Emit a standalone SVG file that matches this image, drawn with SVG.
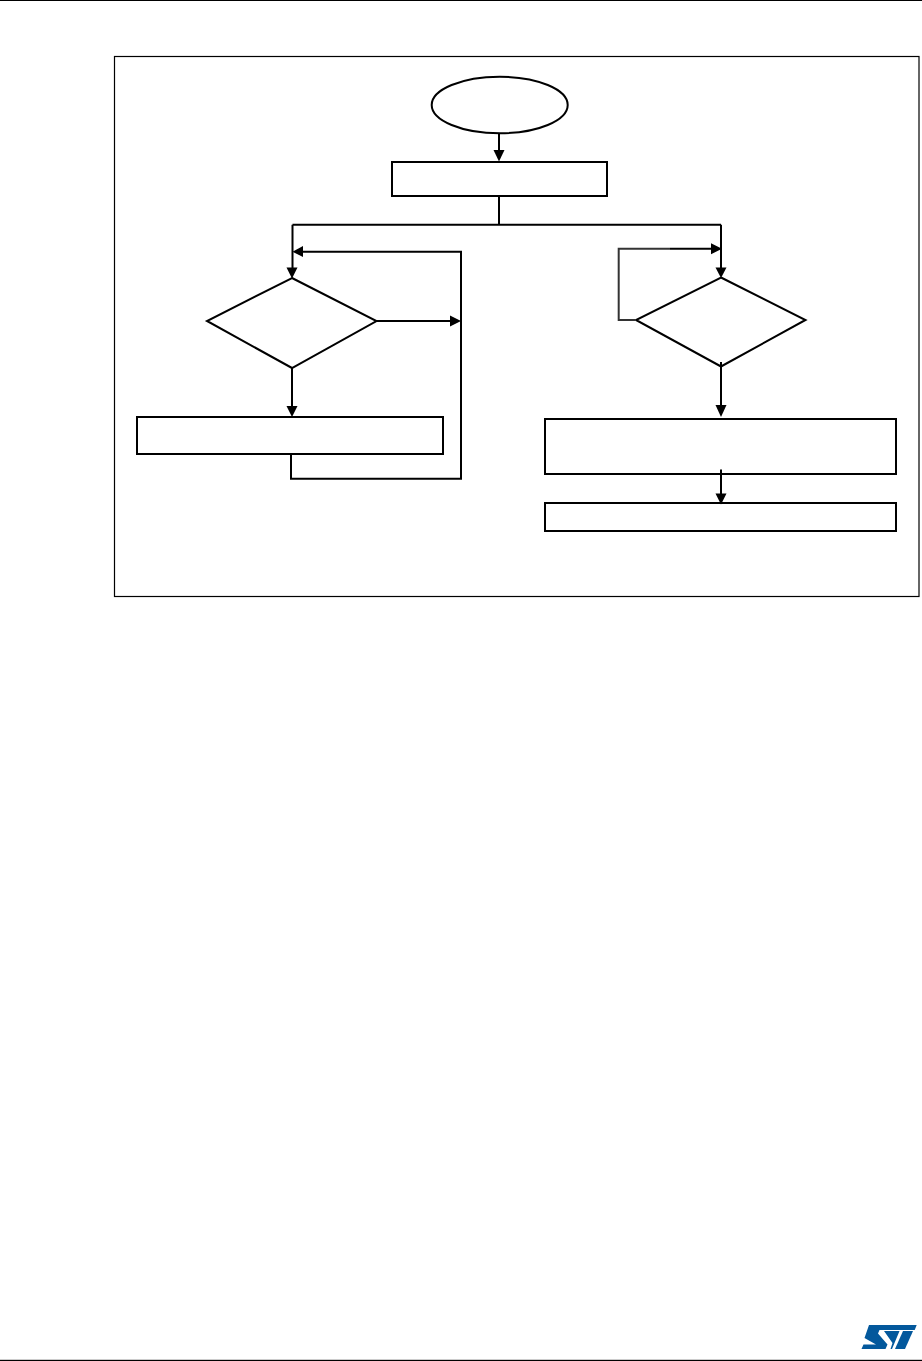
<svg xmlns="http://www.w3.org/2000/svg" width="922" height="1361" viewBox="0 0 922 1361">
<style>
.n{fill:#fff;stroke:#000;stroke-width:2;stroke-linejoin:miter}
.c{fill:none;stroke:#000;stroke-width:2}
.g{fill:none;stroke:#333;stroke-width:2}
.h{fill:#000;stroke:none}
.l{fill:#03589c;stroke:none}
</style>
<rect width="922" height="1361" fill="#fff"/>
<g id="page-rules">
<rect x="0" y="0" width="922" height="1" fill="#000"/>
<rect x="0" y="1359.8" width="922" height="1.2" fill="#000"/>
</g>
<rect id="frame" x="114.5" y="56.5" width="804.5" height="540" fill="#fff" stroke="#000" stroke-width="1.2"/>
<g id="start"><ellipse class="n" cx="499.7" cy="105" rx="68" ry="28.3"/></g>
<g id="init"><rect class="n" x="392" y="162" width="215" height="34"/></g>
<g id="decision-left"><polygon class="n" points="292,278 376.5,321 292,368 207,321"/></g>
<g id="action-left"><rect class="n" x="137" y="417" width="306" height="37"/></g>
<g id="decision-right"><polygon class="n" points="721,277.5 805.5,320 721,366.5 636,320"/></g>
<g id="action-right-1"><rect class="n" x="545" y="419" width="351" height="55"/></g>
<g id="action-right-2"><rect class="n" x="545" y="503" width="351" height="28"/></g>
<g id="connectors">
<path class="c" d="M499 133V152"/>
<polygon class="h" points="493.5,150 504.5,150 499,161.5"/>
<path class="c" d="M499 196V224.7M292.5 224.7H721M292.5 224.7V270M721 224.7V270"/>
<polygon class="h" points="286.5,267.5 297.5,267.5 292,278.5"/>
<polygon class="h" points="715.5,267.5 726.5,267.5 721,278"/>
<path class="c" d="M291 454V478.7H461V251.7H300"/>
<polygon class="h" points="303,246 303,257 292.5,251.7"/>
<path class="c" d="M376.5 321H452"/>
<polygon class="h" points="450,315.5 450,326.5 461,321"/>
<path class="c" d="M292 368V408"/>
<polygon class="h" points="286.5,406 297.5,406 292,417"/>
<path class="g" d="M636 320H618.7V248.7H670"/>
<path class="c" d="M670 248.7H712"/>
<polygon class="h" points="711,243.2 711,254.2 722,248.7"/>
<path class="c" d="M721 362V407"/>
<polygon class="h" points="715.5,405 726.5,405 721,417"/>
<path class="c" d="M721 469.5V495"/>
<polygon class="h" points="715.5,493.5 726.5,493.5 721,504.5"/>
</g>
<g id="logo">
<path class="l" d="M869 1325H916.7L914.7 1330H879.5L878 1333.5 887.5 1344.5 885.5 1349H861.5L863.5 1344.5H876L864.5 1338Z"/>
<path class="l" d="M884 1331H899.5L892 1349H890.5L892.5 1343Z"/>
<path class="l" d="M903 1331H913L905 1349H895Z"/>
</g>
</svg>
